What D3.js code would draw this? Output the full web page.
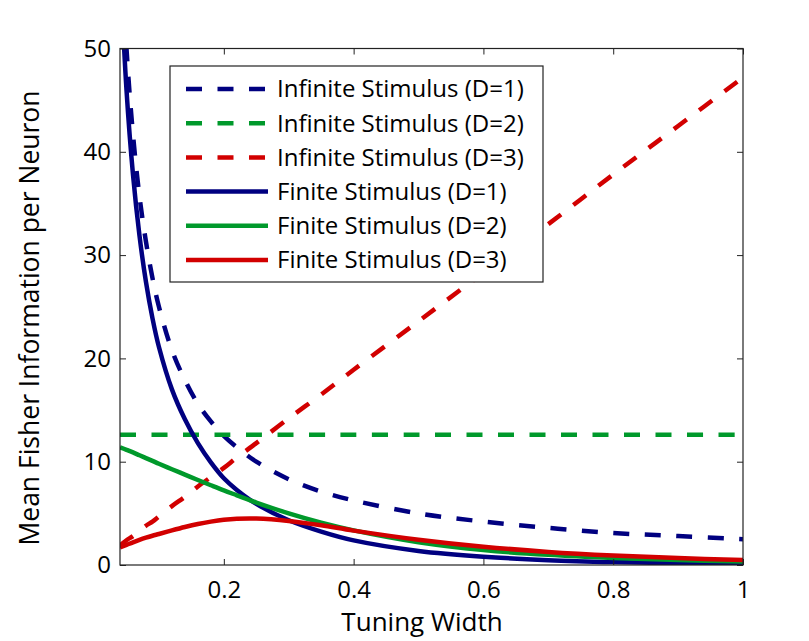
<!DOCTYPE html>
<html>
<head>
  <script src="https://d3js.org/d3.v7.min.js"></script>
  <style>
    body { margin: 0; background: #fff; }
    svg text { font-family: "Open Sans", sans-serif; fill: #000; }
    .axis text { font-size: 24px; }
    .axis path, .axis line { stroke: #222; }
  </style>
</head>
<body>
  <svg class="chart"></svg>
  <script>
    var widths = [0.04, 0.05, 0.06, 0.07, 0.08, 0.09, 0.1, 0.12, 0.14, 0.16, 0.18, 0.2, 0.22, 0.25, 0.3, 0.35, 0.4, 0.5, 0.6, 0.7, 0.8, 0.9, 1.0];

    var infiniteD1 = [62.5, 50, 41.7, 35.7, 31.3, 27.8, 25, 20.8, 17.9, 15.6, 13.9, 12.5, 11.4, 10, 8.3, 7.1, 6.25, 5, 4.2, 3.6, 3.1, 2.8, 2.5];
    var infiniteD2 = [12.6, 12.6, 12.6, 12.6, 12.6, 12.6, 12.6, 12.6, 12.6, 12.6, 12.6, 12.6, 12.6, 12.6, 12.6, 12.6, 12.6, 12.6, 12.6, 12.6, 12.6, 12.6, 12.6];
    var infiniteD3 = [1.9, 2.4, 2.8, 3.3, 3.8, 4.2, 4.7, 5.7, 6.6, 7.6, 8.5, 9.4, 10.4, 11.8, 14.2, 16.5, 18.9, 23.6, 28.3, 33.0, 37.8, 42.5, 47.2];
    var finiteD1 = [58.3, 46, 37.8, 31.9, 27.4, 23.9, 21.1, 17.0, 14.1, 11.8, 9.94, 8.4, 7.27, 5.92, 4.33, 3.23, 2.38, 1.36, 0.8, 0.47, 0.28, 0.17, 0.1];
    var finiteD2 = [11.4, 11.15, 10.9, 10.62, 10.35, 10.08, 9.8, 9.27, 8.75, 8.23, 7.72, 7.22, 6.75, 6.05, 5.0, 4.1, 3.35, 2.2, 1.45, 0.98, 0.68, 0.48, 0.35];
    var finiteD3 = [1.7, 1.95, 2.2, 2.43, 2.64, 2.83, 3.0, 3.35, 3.68, 3.97, 4.2, 4.38, 4.48, 4.5, 4.27, 3.85, 3.33, 2.45, 1.77, 1.27, 0.92, 0.67, 0.48];

    var xTicks = [0.2, 0.4, 0.6, 0.8, 1];
    var yTicks = [0, 10, 20, 30, 40, 50];

    var navy = '#000080', green = '#00992b', red = '#d20000';

    var series = [
      { name: 'Infinite Stimulus (D=1)', values: infiniteD1, color: navy, dashed: true },
      { name: 'Infinite Stimulus (D=2)', values: infiniteD2, color: green, dashed: true },
      { name: 'Infinite Stimulus (D=3)', values: infiniteD3, color: red, dashed: true },
      { name: 'Finite Stimulus (D=1)', values: finiteD1, color: navy, dashed: false },
      { name: 'Finite Stimulus (D=2)', values: finiteD2, color: green, dashed: false },
      { name: 'Finite Stimulus (D=3)', values: finiteD3, color: red, dashed: false }
    ];

    var width = 809, height = 641;
    var m = { left: 120, right: 743, top: 48.5, bottom: 565 };

    var svg = d3.select('.chart')
      .attr('width', width)
      .attr('height', height);

    var x = d3.scaleLinear().domain([0.04, 1]).range([m.left, m.right]);
    var y = d3.scaleLinear().domain([0, 50]).range([m.bottom, m.top]);

    svg.append('clipPath').attr('id', 'plot')
      .append('rect')
      .attr('x', m.left).attr('y', m.top)
      .attr('width', m.right - m.left).attr('height', m.bottom - m.top);

    var line = d3.line()
      .x(function (d) { return x(d[0]); })
      .y(function (d) { return y(d[1]); })
      .curve(d3.curveCatmullRom.alpha(0.5));

    svg.append('g')
      .attr('clip-path', 'url(#plot)')
      .selectAll('path')
      .data(series)
      .enter()
      .append('path')
      .attr('d', function (s) { return line(d3.zip(widths, s.values)); })
      .attr('fill', 'none')
      .attr('stroke', function (s) { return s.color; })
      .attr('stroke-width', 4.5)
      .attr('stroke-dasharray', function (s) { return s.dashed ? '16,15.5' : null; });

    // box axes, ticks pointing inward like matlab
    svg.append('g').attr('class', 'axis')
      .attr('transform', 'translate(0,' + m.bottom + ')')
      .call(d3.axisBottom(x).tickValues(xTicks).tickSize(-6).tickPadding(16)
        .tickFormat(function (d) { return d === 1 ? '1' : d3.format('.1f')(d); }))
      .call(function (g) { g.select('.domain').remove(); });
    svg.append('g').attr('class', 'axis')
      .attr('transform', 'translate(0,' + m.top + ')')
      .call(d3.axisTop(x).tickValues(xTicks).tickSize(-6).tickFormat(''))
      .call(function (g) { g.select('.domain').remove(); });
    svg.append('g').attr('class', 'axis')
      .attr('transform', 'translate(' + m.left + ',0)')
      .call(d3.axisLeft(y).tickValues(yTicks).tickSize(-6).tickPadding(9))
      .call(function (g) { g.select('.domain').remove(); });
    svg.append('g').attr('class', 'axis')
      .attr('transform', 'translate(' + m.right + ',0)')
      .call(d3.axisRight(y).tickValues(yTicks).tickSize(-6).tickFormat(''))
      .call(function (g) { g.select('.domain').remove(); });

    svg.append('rect')
      .attr('x', m.left).attr('y', m.top)
      .attr('width', m.right - m.left).attr('height', m.bottom - m.top)
      .attr('fill', 'none').attr('stroke', '#222').attr('stroke-width', 1.2);

    svg.append('text')
      .attr('x', 422).attr('y', 631)
      .attr('text-anchor', 'middle')
      .style('font-size', '26px')
      .text('Tuning Width');

    svg.append('text')
      .attr('transform', 'translate(39,318) rotate(-90)')
      .attr('text-anchor', 'middle')
      .style('font-size', '26.5px')
      .text('Mean Fisher Information per Neuron');

    // legend
    var legend = svg.append('g');
    legend.append('rect')
      .attr('x', 170).attr('y', 66)
      .attr('width', 373).attr('height', 216)
      .attr('fill', '#fff').attr('stroke', '#222').attr('stroke-width', 1.2);

    var row = legend.selectAll('.row')
      .data(series)
      .enter()
      .append('g')
      .attr('class', 'row')
      .attr('transform', function (d, i) { return 'translate(0,' + (89 + i * 34.2) + ')'; });

    row.append('line')
      .attr('x1', 186).attr('x2', 268)
      .attr('stroke', function (s) { return s.color; })
      .attr('stroke-width', 4.5)
      .attr('stroke-dasharray', function (s) { return s.dashed ? '16,15.5' : null; });

    row.append('text')
      .attr('x', 277).attr('dy', '0.35em')
      .style('font-size', '24px')
      .text(function (s) { return s.name; });
  </script>
</body>
</html>
